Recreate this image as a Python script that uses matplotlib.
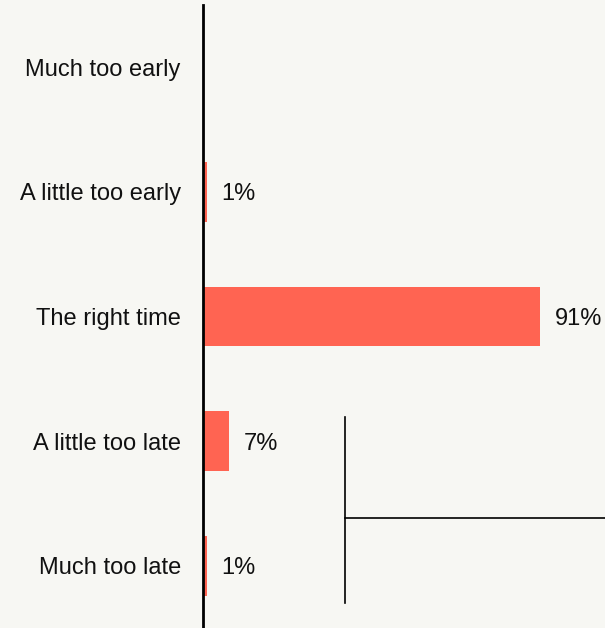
import matplotlib.pyplot as plt

# Survey responses: share of answers per timing option
categories = ["Much too early", "A little too early", "The right time",
              "A little too late", "Much too late"]
shares = [0, 1, 91, 7, 1]
value_labels = ["", "1%", "91%", "7%", "1%"]

# Bracket drawn over the lower part of the chart (x in %, y in category units)
bracket_x = [38.3, 38.3]
bracket_y = [2.81, 4.30]
bracket_h_x = [38.3, 108.6]
bracket_h_y = [3.62, 3.62]

BG = "#f7f7f3"
BAR = "#ff6452"

plt.rcParams["font.family"] = ["Liberation Sans", "DejaVu Sans"]

fig = plt.figure(figsize=(6.05, 6.28), dpi=100, facecolor=BG)
ax = fig.add_axes([203 / 605, 0.0, 402 / 605, 623 / 628])
ax.set_facecolor(BG)

y = list(range(len(categories)))
ax.barh(y, shares, height=0.48, color=BAR, zorder=2)

for yi, v, lab in zip(y, shares, value_labels):
    if lab:
        ax.text(v + 4.0, yi, lab, va="center_baseline", ha="left",
                fontsize=17, color="#111111")

ax.plot(bracket_x, bracket_y, color="black", lw=1.2, clip_on=False)
ax.plot(bracket_h_x, bracket_h_y, color="black", lw=1.2, clip_on=False)

ax.set_xlim(0, 108.6)
ax.set_ylim(4.5, -0.5)
ax.set_yticks(y)
ax.set_yticklabels(categories, fontsize=17, color="#111111")
ax.tick_params(axis="y", length=0, pad=16)
ax.set_xticks([])

for side in ["top", "right", "bottom"]:
    ax.spines[side].set_visible(False)
ax.spines["left"].set_linewidth(2)
ax.spines["left"].set_color("black")
ax.spines["left"].set_zorder(3)

fig.savefig("out.png", dpi=100, facecolor=BG)
